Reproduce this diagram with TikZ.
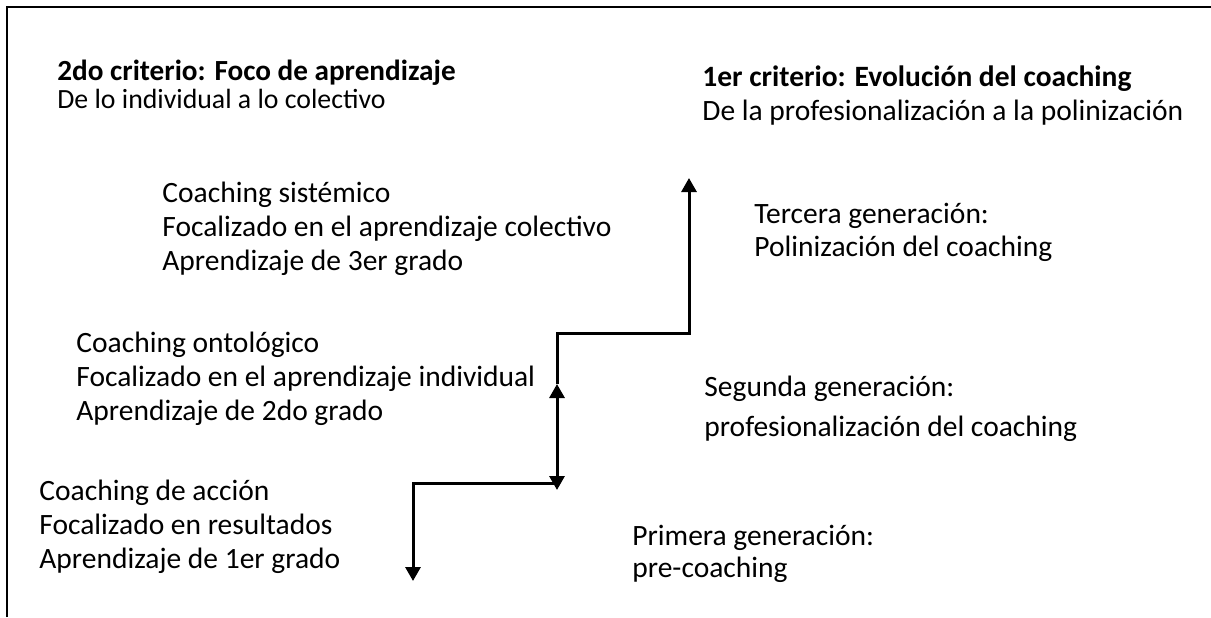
\documentclass[tikz,border=0pt]{standalone}
\usepackage{fontspec}
\setmainfont{Carlito}
\usetikzlibrary{arrows.meta, positioning}

\tikzset{
    txt/.style={anchor=base west, inner sep=0pt, align=left, font=\fontsize{14.75}{#1}\selectfont},
    txt/.default=16.8,
    stair/.style={line width=1.5pt, -{Triangle[width=7.5pt, length=7pt]}},
}

\begin{document}
\begin{tikzpicture}[x=0.5pt, y=-0.5pt]
    \useasboundingbox (0,0) rectangle (1211,617);
    % frame (only top and left sides are visible)
    \draw[line width=1.25pt] (7,617) -- (7,7) -- (1211,7);

    % criteria headers (anchored at the last line)
    \node (crit2) [txt=14, font=\fontsize{14.6}{14}\selectfont] at (57,108) {\textbf{2do criterio: Foco de aprendizaje} \\ \fontsize{13.9}{14}\selectfont De lo individual a lo colectivo};
    \node (crit1) [txt=17] at (702,120) {\textbf{1er criterio: Evolución del coaching} \\ De la profesionalización a la polinización};

    % learning focus (left)
    \node (sistemico) [txt] at (162,270) {Coaching sistémico \\ Focalizado en el aprendizaje colectivo \\ Aprendizaje de 3er grado};
    \node (ontologico) [txt] at (76,420) {Coaching ontológico \\ Focalizado en el aprendizaje individual \\ Aprendizaje de 2do grado};
    \node (accion) [txt] at (39,568) {Coaching de acción \\ Focalizado en resultados \\ Aprendizaje de 1er grado};

    % generations (right)
    \node (tercera) [txt=16.5] at (754,256) {Tercera generación: \\ Polinización del coaching};
    \node (segunda) [txt=19.75] at (704,436) {Segunda generación: \\ profesionalización del coaching};
    \node (primera) [txt=15.8] at (632,577) {Primera generación: \\ pre-coaching};

    % stair points
    \coordinate (s0) at (413,581);
    \coordinate (s1) at (413,483);
    \coordinate (s2) at (557,483);
    \coordinate (s3) at (557,490);
    \coordinate (s4) at (557,384);
    \coordinate (s5) at (557,333);
    \coordinate (s6) at (689,333);
    \coordinate (s7) at (689,178);

    % the stairs
    \draw[stair] (s2) -- (s1) -- (s0);
    \draw[stair, {Triangle[width=7.5pt, length=7pt]}-{Triangle[width=7.5pt, length=7pt]}] (s4) -- (s3);
    \draw[stair] (s4) -- (s5) -- (s6) -- (s7);
\end{tikzpicture}
\end{document}
